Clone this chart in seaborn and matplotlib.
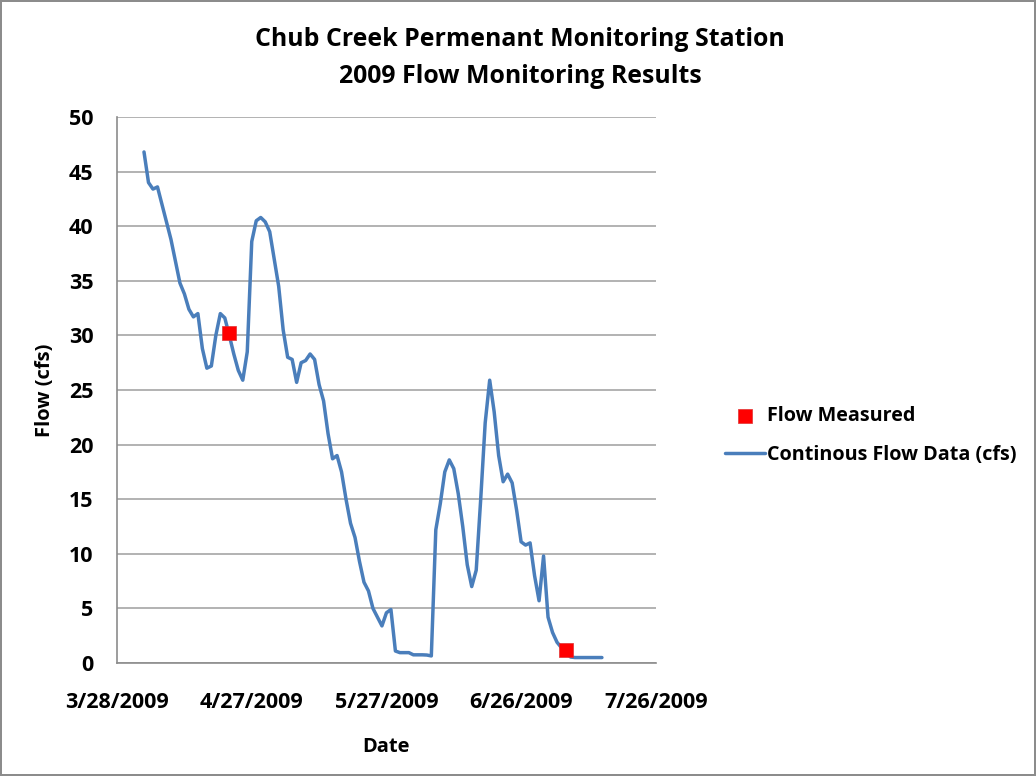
import matplotlib
matplotlib.use("Agg")
import matplotlib.pyplot as plt
import matplotlib.dates as mdates
import pandas as pd
import seaborn as sns

# continuous (daily) flow record, starting 4/3/2009
flow_start = "2009-04-03"
flow_cfs = [
    46.8, 44.0, 43.4, 43.6, 42.0, 40.4, 38.8, 36.8, 34.8, 33.8,
    32.4, 31.7, 32.0, 28.8, 27.0, 27.2, 30.0, 32.0, 31.6, 30.0,
    28.3, 26.8, 25.9, 28.5, 38.6, 40.5, 40.8, 40.4, 39.5, 37.0,
    34.5, 30.5, 28.0, 27.8, 25.7, 27.5, 27.7, 28.3, 27.8, 25.5,
    24.0, 21.0, 18.7, 19.0, 17.5, 15.0, 12.8, 11.5, 9.3, 7.4,
    6.6, 5.0, 4.2, 3.4, 4.6, 4.9, 1.1, 0.95, 0.95, 0.95,
    0.75, 0.75, 0.75, 0.73, 0.65, 12.2, 14.6, 17.5, 18.6, 17.8,
    15.5, 12.5, 9.0, 7.0, 8.5, 15.0, 22.0, 25.9, 23.0, 19.0,
    16.6, 17.3, 16.5, 14.0, 11.1, 10.8, 11.0, 8.0, 5.7, 9.8,
    4.2, 2.8, 1.9, 1.4, 1.0, 0.55, 0.5, 0.5, 0.5, 0.5,
    0.5, 0.5, 0.5,
]

# spot measurements
measured_dates = ["2009-04-22", "2009-07-06"]
measured_cfs = [30.2, 1.2]

tick_dates = ["2009-03-28", "2009-04-27", "2009-05-27", "2009-06-26", "2009-07-26"]

flow = pd.DataFrame({
    "date": pd.date_range(flow_start, periods=len(flow_cfs), freq="D"),
    "flow": flow_cfs,
})
measured = pd.DataFrame({"date": pd.to_datetime(measured_dates), "flow": measured_cfs})

sns.set_style("white")
plt.rcParams["font.family"] = ["Open Sans", "DejaVu Sans"]
plt.rcParams.update({"text.color": "black", "axes.labelcolor": "black",
                     "xtick.labelcolor": "black", "ytick.labelcolor": "black"})

fig = plt.figure(figsize=(10.36, 7.76), dpi=100)
fig.patch.set_edgecolor("#8c8c8c")
fig.patch.set_linewidth(1.5)
ax = fig.add_axes([0.113, 0.1456, 0.52, 0.7036])

sns.lineplot(data=flow, x="date", y="flow", ax=ax, color="#4a7ebb", linewidth=2.5,
             solid_joinstyle="round", solid_capstyle="round",
             label="Continous Flow Data (cfs)")
sns.scatterplot(data=measured, x="date", y="flow", ax=ax, marker="s", s=110,
                color="#ff0000", edgecolor="#e03030", linewidth=0.5, zorder=3,
                label="Flow Measured")

ticks = pd.to_datetime(tick_dates)
ax.set_xlim(ticks[0], ticks[-1])
ax.set_xticks(ticks)
ax.xaxis.set_major_formatter(
    plt.FuncFormatter(lambda v, p: (lambda d: f"{d.month}/{d.day}/{d.year}")(mdates.num2date(v))))
ax.set_ylim(0, 50)
ax.set_yticks(range(0, 51, 5))

ax.yaxis.grid(True, color="#a6a6a6", linewidth=1.2)
ax.xaxis.grid(False)
for side in ["top", "right"]:
    ax.spines[side].set_visible(False)
for side in ["left", "bottom"]:
    ax.spines[side].set_color("#8c8c8c")
    ax.spines[side].set_linewidth(1.2)
ax.tick_params(axis="both", which="major", length=6, color="#8c8c8c", direction="out",
               labelsize=15.5, labelcolor="black")
ax.tick_params(axis="x", pad=15)
ax.tick_params(axis="y", pad=11)
for lbl in ax.get_xticklabels() + ax.get_yticklabels():
    lbl.set_fontweight("bold")

ax.set_xlabel("Date", fontsize=14.5, fontweight="bold", labelpad=17, color="black")
ax.set_ylabel("Flow (cfs)", fontsize=14.5, fontweight="bold", labelpad=10, color="black")

fig.text(0.502, 0.949, "Chub Creek Permenant Monitoring Station", ha="center", va="center",
         fontsize=17.9, fontweight="bold", color="black")
fig.text(0.502, 0.901, "2009 Flow Monitoring Results", ha="center", va="center",
         fontsize=17.9, fontweight="bold", color="black")

handles, labels = ax.get_legend_handles_labels()
order = [labels.index("Flow Measured"), labels.index("Continous Flow Data (cfs)")]
leg = ax.legend([handles[i] for i in order], [labels[i] for i in order],
                loc="center left", bbox_to_anchor=(1.096, 0.417), frameon=False,
                prop={"weight": "bold", "size": 14.2}, handlelength=2.0, handletextpad=0.1,
                labelspacing=0.95)
for t in leg.get_texts():
    t.set_color("black")

fig.savefig("out.png", dpi=100)
